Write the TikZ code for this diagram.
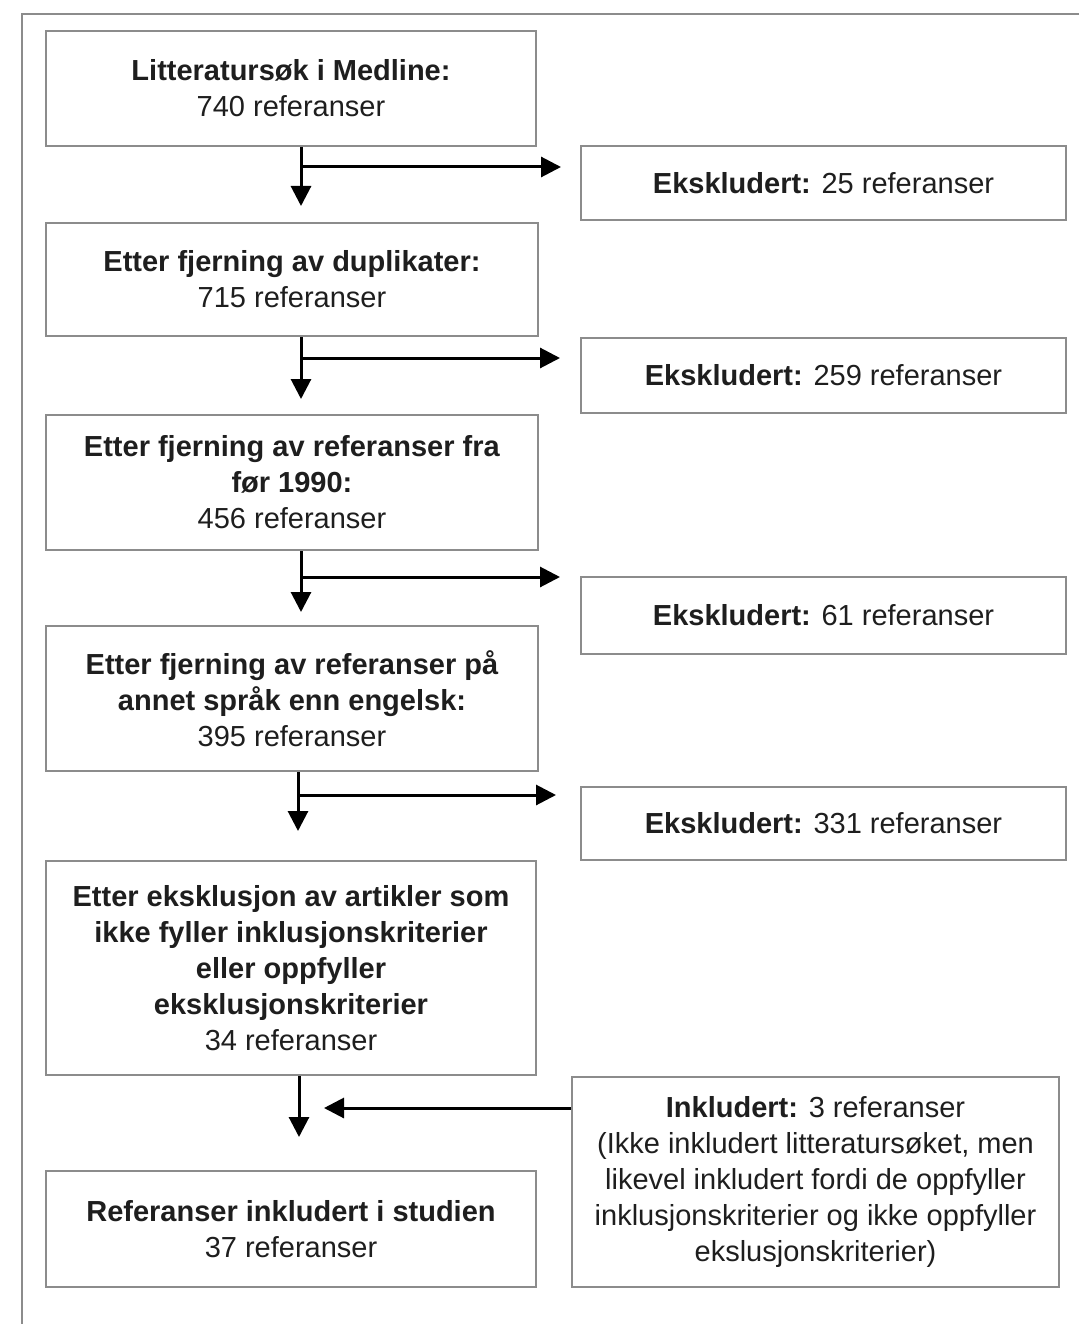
\documentclass[tikz,border=0pt]{standalone}
\usepackage{fontspec}
\setmainfont{Liberation Sans}
\usetikzlibrary{arrows.meta}
\definecolor{boxgray}{HTML}{8C8C8C}
\definecolor{txt}{HTML}{1E1E1E}
\begin{document}
\begin{tikzpicture}[x=1pt,y=-1pt,
  box/.style={draw=boxgray,line width=2pt,inner sep=0pt,align=center,text=txt,
    font=\fontsize{29}{36}\selectfont},
  arr/.style={line width=3pt,draw=black,-{Triangle[length=20pt,width=20pt]}}]
\useasboundingbox (0,0) rectangle (1079,1324);
% outer frame
\draw[boxgray,line width=2pt] (1079,14) -- (22,14) -- (22,1324);
% left column
\node[box,minimum width=490pt,minimum height=115pt] (b1) at (291,88.5)
  {\textbf{Litteratursøk i Medline:}\\740 referanser};
\node[box,minimum width=492pt,minimum height=113pt] (b2) at (292,279.5)
  {\textbf{Etter fjerning av duplikater:}\\715 referanser};
\node[box,minimum width=492pt,minimum height=135pt] (b3) at (292,482.5)
  {\textbf{Etter fjerning av referanser fra}\\\textbf{før 1990:}\\456 referanser};
\node[box,minimum width=492pt,minimum height=145pt] (b4) at (292,698.5)
  {\textbf{Etter fjerning av referanser på}\\\textbf{annet språk enn engelsk:}\\395 referanser};
\node[box,minimum width=490pt,minimum height=214pt] (b5) at (291,968)
  {\textbf{Etter eksklusjon av artikler som}\\\textbf{ikke fyller inklusjonskriterier}\\\textbf{eller oppfyller}\\\textbf{eksklusjonskriterier}\\34 referanser};
\node[box,minimum width=490pt,minimum height=116pt] (b6) at (291,1229)
  {\textbf{Referanser inkludert i studien}\\37 referanser};
% right column
\node[box,minimum width=485pt,minimum height=74pt] (r1) at (823.5,183)
  {\textbf{Ekskludert:} 25 referanser};
\node[box,minimum width=485pt,minimum height=75pt] (r2) at (823.5,375.5)
  {\textbf{Ekskludert:} 259 referanser};
\node[box,minimum width=485pt,minimum height=77pt] (r3) at (823.5,615.5)
  {\textbf{Ekskludert:} 61 referanser};
\node[box,minimum width=485pt,minimum height=73pt] (r4) at (823.5,823.5)
  {\textbf{Ekskludert:} 331 referanser};
\node[box,minimum width=487pt,minimum height=210pt] (r5) at (815.5,1182)
  {\textbf{Inkludert:} 3 referanser\\(Ikke inkludert litteratursøket, men\\likevel inkludert fordi de oppfyller\\inklusjonskriterier og ikke oppfyller\\ekslusjonskriterier)};
% junctions
\coordinate (j1) at (301,167);
\coordinate (j2) at (301,358);
\coordinate (j3) at (301,577);
\coordinate (j4) at (298,795);
\coordinate (j5) at (299,1108);
% arrows
\draw[arr,shorten >=16pt] (j1 |- b1.south) -- (j1 |- b2.north);
\draw[arr,shorten >=19pt] (j1) -- (j1 -| r1.west);
\draw[arr,shorten >=15pt] (j2 |- b2.south) -- (j2 |- b3.north);
\draw[arr,shorten >=20pt] (j2) -- (j2 -| r2.west);
\draw[arr,shorten >=13pt] (j3 |- b3.south) -- (j3 |- b4.north);
\draw[arr,shorten >=20pt] (j3) -- (j3 -| r3.west);
\draw[arr,shorten >=29pt] (j4 |- b4.south) -- (j4 |- b5.north);
\draw[arr,shorten >=24pt] (j4) -- (j4 -| r4.west);
\draw[arr,shorten >=33pt] (j5 |- b5.south) -- (j5 |- b6.north);
\draw[arr,shorten >=25pt] (j5 -| r5.west) -- (j5);
\end{tikzpicture}
\end{document}
